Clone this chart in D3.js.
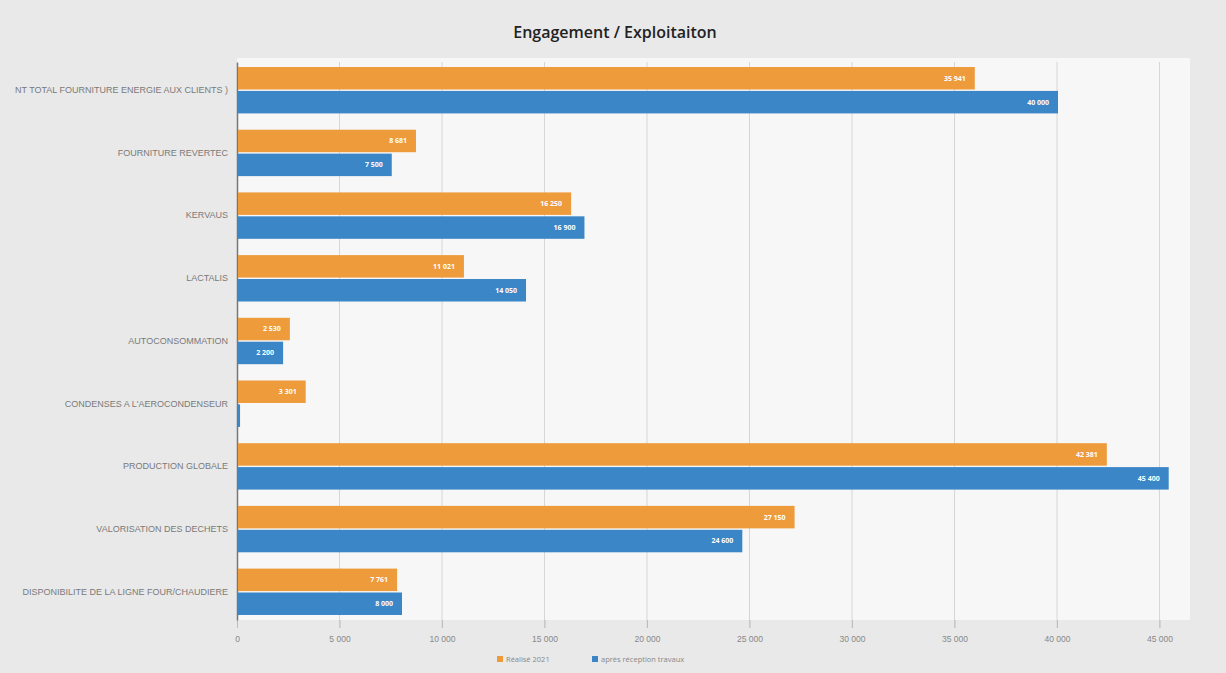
<!DOCTYPE html>
<html>
<head>
<meta charset="utf-8">
<script src="https://cdn.jsdelivr.net/npm/d3@7"></script>
<style>
  body { margin: 0; background: #ebebeb; }
  svg { display: block; font-family: 'Open Sans', 'DejaVu Sans', sans-serif; }
</style>
</head>
<body>
<div id="chart"></div>
<script>
// first label is cut at the page edge in the source scan, kept as it is visible there
const categories = [
  'NT TOTAL FOURNITURE ENERGIE AUX CLIENTS )',
  'FOURNITURE REVERTEC',
  'KERVAUS',
  'LACTALIS',
  'AUTOCONSOMMATION',
  'CONDENSES A L\'AEROCONDENSEUR',
  'PRODUCTION GLOBALE',
  'VALORISATION DES DECHETS',
  'DISPONIBILITE DE LA LIGNE FOUR/CHAUDIERE'
];
const realise2021 = [35941, 8681, 16250, 11021, 2530, 3301, 42381, 27150, 7761];
const apresTravaux = [40000, 7500, 16900, 14050, 2200, 100, 45400, 24600, 8000];
const seriesNames = ['Réalisé 2021', 'après réception travaux'];
const tickValues = [0, 5000, 10000, 15000, 20000, 25000, 30000, 35000, 40000, 45000];

const width = 1226;
const height = 673;
const margin = { top: 62, right: 46, bottom: 53, left: 237 };
const colors = ['#ee9b3c', '#3a86c7'];

const fmt = v => d3.format(',')(v).replace(/,/g, ' ');

const svg = d3.select('#chart')
  .append('svg')
  .attr('width', width)
  .attr('height', height);

svg.append('rect')
  .attr('width', width).attr('height', height)
  .attr('fill', '#e9e9e9');

svg.append('rect')
  .attr('x', margin.left).attr('y', margin.top - 4)
  .attr('width', width - margin.left - margin.right + 10)
  .attr('height', height - margin.top - margin.bottom + 4)
  .attr('fill', '#f7f7f7');

svg.append('text')
  .attr('x', 615).attr('y', 38)
  .attr('text-anchor', 'middle')
  .attr('font-size', 16)
  .attr('font-weight', 600)
  .attr('fill', '#222')
  .text('Engagement / Exploitaiton');

const x = d3.scaleLinear()
  .domain([0, 46000])
  .range([margin.left, width - margin.right]);

const y = d3.scaleBand()
  .domain(categories)
  .range([margin.top, height - margin.bottom])
  .paddingInner(0.26)
  .paddingOuter(0.08);

const sub = d3.scaleBand()
  .domain([0, 1])
  .range([0, y.bandwidth()])
  .paddingInner(0.06);

// grid lines
svg.append('g')
  .selectAll('line')
  .data(tickValues.slice(1))
  .enter()
  .append('line')
  .attr('x1', d => x(d)).attr('x2', d => x(d))
  .attr('y1', margin.top).attr('y2', height - margin.bottom + 8)
  .attr('stroke', '#d6d6d6')
  .attr('stroke-width', 1);

// x axis
const xAxis = svg.append('g')
  .attr('transform', 'translate(0,' + (height - margin.bottom) + ')')
  .call(d3.axisBottom(x).tickValues(tickValues).tickFormat(fmt).tickSize(8).tickPadding(8));
xAxis.select('.domain').remove();
xAxis.selectAll('line').attr('stroke', '#bdbdbd');
xAxis.selectAll('text').attr('fill', '#888').attr('font-size', 8.5);

// y axis
const yAxis = svg.append('g')
  .attr('transform', 'translate(' + margin.left + ',0)')
  .call(d3.axisLeft(y).tickSize(0).tickPadding(9));
yAxis.select('.domain').attr('stroke', '#777').attr('stroke-width', 1.5);
yAxis.selectAll('text').attr('fill', '#7a7a7a').attr('font-size', 9);

const rows = categories.map((c, i) => ({ cat: c, vals: [realise2021[i], apresTravaux[i]] }));

const groups = svg.selectAll('.grp')
  .data(rows)
  .enter()
  .append('g')
  .attr('class', 'grp')
  .attr('transform', d => 'translate(0,' + y(d.cat) + ')');

groups.selectAll('rect')
  .data(d => d.vals.map((v, k) => ({ v, k })))
  .enter()
  .append('rect')
  .attr('x', x(0) + 1)
  .attr('y', d => sub(d.k))
  .attr('width', d => x(d.v) - x(0))
  .attr('height', sub.bandwidth())
  .attr('fill', d => colors[d.k]);

groups.selectAll('.lbl')
  .data(d => d.vals.map((v, k) => ({ v, k })).filter(e => e.v >= 500))
  .enter()
  .append('text')
  .attr('class', 'lbl')
  .attr('x', d => x(d.v) - 8)
  .attr('y', d => sub(d.k) + sub.bandwidth() / 2)
  .attr('dy', '0.35em')
  .attr('text-anchor', 'end')
  .attr('font-size', 7)
  .attr('font-weight', 'bold')
  .attr('fill', '#fff')
  .text(d => fmt(d.v));

// legend
const legend = svg.append('g')
  .attr('transform', 'translate(497,660)');
seriesNames.forEach((name, i) => {
  const lx = i === 0 ? 0 : 95;
  legend.append('rect')
    .attr('x', lx).attr('y', -4)
    .attr('width', 6).attr('height', 6)
    .attr('fill', colors[i]);
  legend.append('text')
    .attr('x', lx + 9).attr('y', 0)
    .attr('dy', '0.3em')
    .attr('font-size', 7.5)
    .attr('fill', '#888')
    .text(name);
});
</script>
</body>
</html>
